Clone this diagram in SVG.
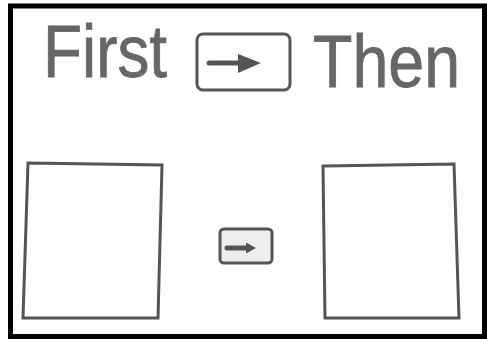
<svg xmlns="http://www.w3.org/2000/svg" width="487" height="339" viewBox="0 0 487 339">
<style>
.t{font-family:"Liberation Sans",Arial,sans-serif;font-size:75px;fill:#666;stroke:#666;stroke-width:0.8}
.box{fill:#fff;stroke:#555;stroke-width:3}
.ab{stroke:#555;stroke-width:3}
.shaft{stroke:#555;stroke-width:5;stroke-linecap:round}
.head{fill:#555}
</style>
<rect x="0" y="0" width="487" height="339" fill="#fff"/>
<rect x="10.5" y="6" width="474" height="330.5" fill="none" stroke="#000" stroke-width="5"/>
<g id="title">
<text class="t" x="43" y="77" textLength="124" lengthAdjust="spacingAndGlyphs">First</text>
<text class="t" x="313" y="87" textLength="147" lengthAdjust="spacingAndGlyphs">Then</text>
</g>
<g id="header-arrow">
<rect class="ab" x="197" y="34" width="93" height="56" rx="6" fill="#fff"/>
<line class="shaft" x1="209" y1="63" x2="243" y2="63"/>
<polygon class="head" points="238,54 261,63 238,73"/>
</g>
<g id="first-box">
<polygon class="box" points="28,163 162,165 158,318 23,318"/>
</g>
<g id="then-box">
<polygon class="box" points="323,166 454,164 459,318 325,318"/>
</g>
<g id="connectors">
<rect class="ab" x="220" y="229" width="52" height="34" rx="4" fill="#eee" stroke-width="2.5"/>
<line class="shaft" x1="227" y1="248" x2="248" y2="248" stroke-width="3.5"/>
<polygon class="head" points="246,242.5 256,248 246,253.5"/>
</g>
</svg>
